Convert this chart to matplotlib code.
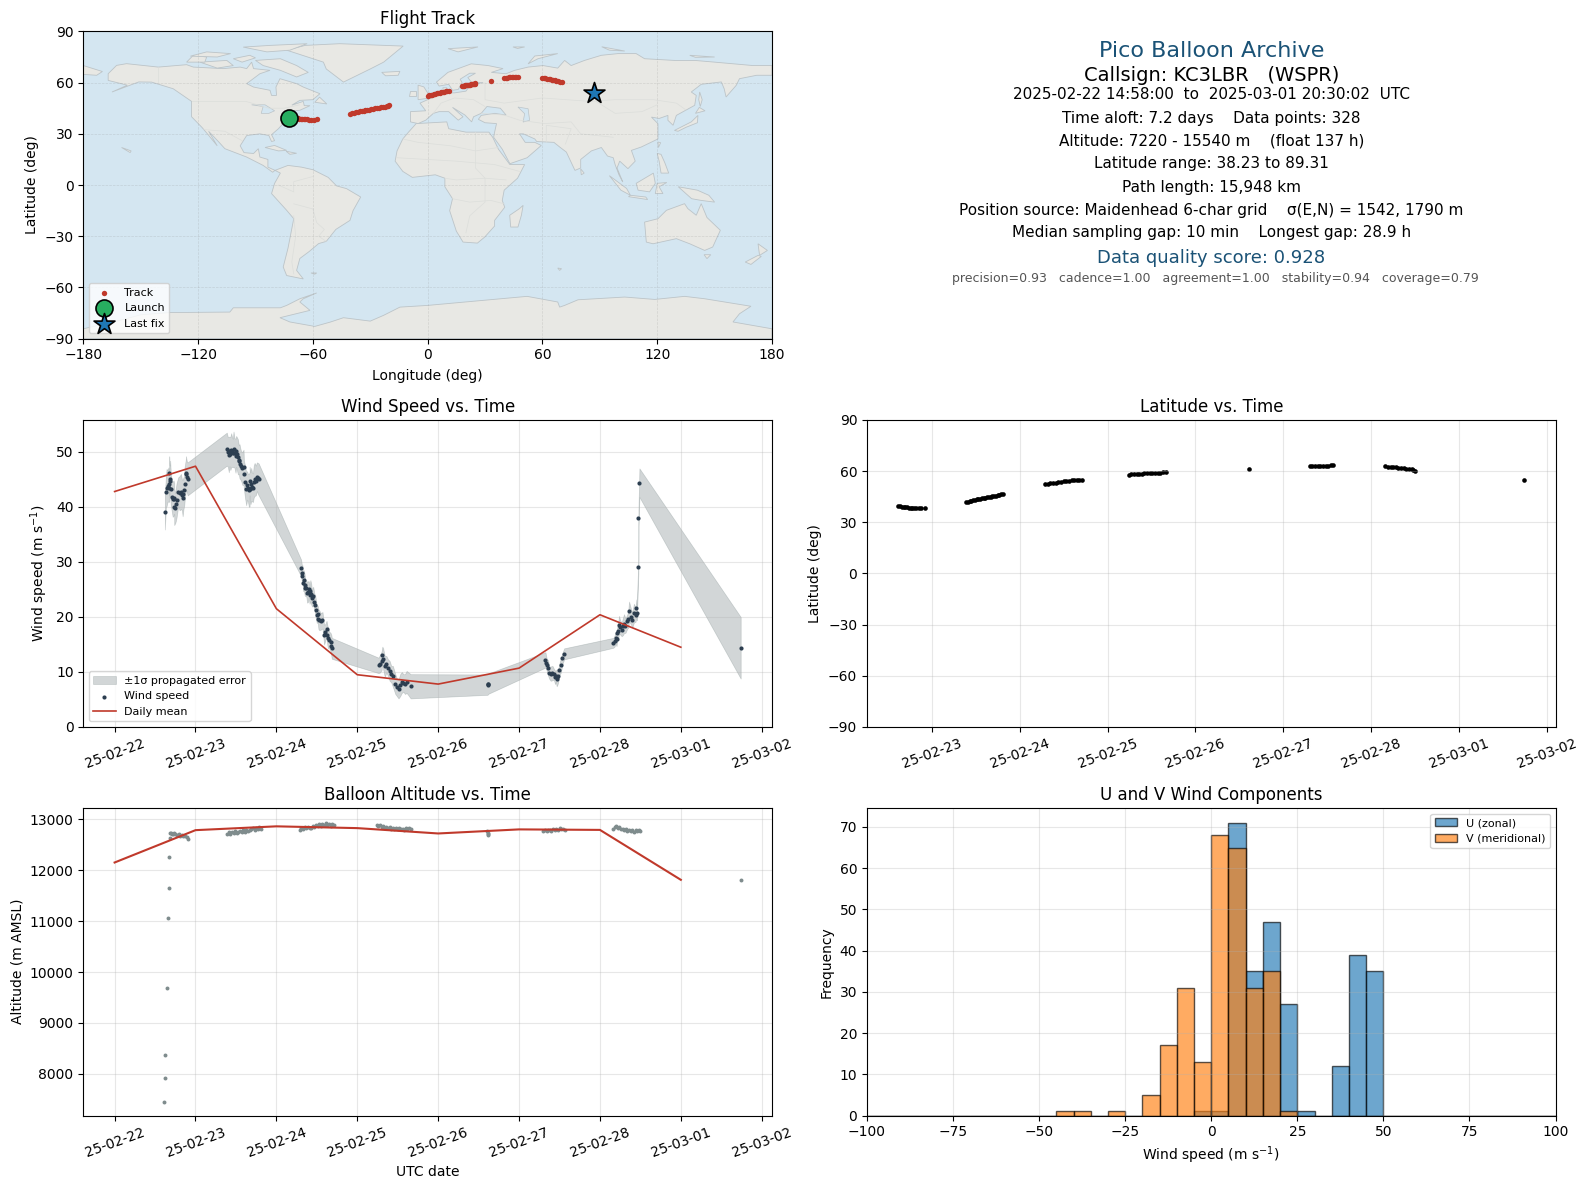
import pandas as pd
import matplotlib
matplotlib.use('Agg')
import matplotlib.pyplot as plt
import matplotlib.dates as mdates

# values, times are days after 2025-02-22 00:00
START = pd.Timestamp('2025-02-22')

wind_t = [0.621, 0.634, 0.642, 0.654, 0.667, 0.675, 0.675, 0.680, 0.687, 0.695, 0.708, 0.718, 0.729, 0.737, 0.737,
          0.750, 0.758, 0.766, 0.787, 0.803, 0.820, 0.832, 0.841, 0.850, 0.861, 0.865, 0.882, 0.882, 0.893, 0.903,
          1.387, 1.400, 1.412, 1.420, 1.431, 1.441, 1.452, 1.462, 1.470, 1.482, 1.495, 1.503, 1.514, 1.524, 1.536,
          1.544, 1.555, 1.565, 1.580, 1.594, 1.598, 1.612, 1.627, 1.638, 1.648, 1.660, 1.669, 1.669, 1.680, 1.689,
          1.700, 1.710, 1.720, 1.731, 1.745, 1.760, 1.770, 1.781,
          2.306, 2.318, 2.322, 2.330, 2.340, 2.350, 2.358, 2.370, 2.380, 2.390, 2.400, 2.410, 2.420, 2.430, 2.440,
          2.455, 2.470, 2.480, 2.490, 2.500, 2.510, 2.520, 2.530, 2.550, 2.570, 2.590, 2.605, 2.620, 2.630, 2.640,
          2.655, 2.670, 2.680, 2.685,
          3.263, 3.280, 3.300, 3.310, 3.320, 3.340, 3.360, 3.380, 3.400, 3.420, 3.440, 3.470, 3.490, 3.510, 3.530,
          3.550, 3.570, 3.590, 3.610, 3.660,
          4.610, 4.616, 4.622,
          5.326, 5.335, 5.343, 5.360, 5.372, 5.390, 5.413, 5.430, 5.445, 5.455, 5.465, 5.475, 5.485, 5.496, 5.517,
          5.537, 5.558,
          6.165, 6.180, 6.194, 6.205, 6.215, 6.225, 6.236, 6.250, 6.269, 6.285, 6.298, 6.315, 6.339, 6.350, 6.360,
          6.385, 6.400, 6.420, 6.440, 6.450, 6.455, 6.475, 6.476, 6.488,
          7.740]
wind_speed = [39.1, 42.7, 43.5, 43.8, 44.1, 43.5, 46.2, 44.8, 45.1, 43.2, 41.8, 41.4, 41.6, 41.5, 40.0,
              39.8, 40.5, 41.2, 42.8, 42.5, 42.8, 42.2, 41.6, 42.4, 43.0, 44.1, 45.9, 46.2, 45.5, 45.1,
              50.5, 50.0, 49.5, 50.1, 49.7, 50.3, 50.0, 49.8, 50.5, 49.8, 49.3, 50.1, 49.6, 49.1, 48.6,
              48.3, 47.8, 47.4, 47.0, 47.2, 45.9, 44.6, 43.3, 43.9, 43.5, 43.0, 43.2, 44.7, 43.4, 44.1,
              43.6, 43.5, 44.6, 45.0, 44.8, 45.5, 45.2, 45.0,
              28.9, 27.5, 28.0, 26.2, 26.7, 25.8, 25.2, 25.2, 24.4, 24.6, 25.0, 24.0, 24.8, 24.2, 23.4,
              23.8, 22.7, 22.2, 21.2, 20.4, 20.6, 19.6, 19.4, 19.2, 19.4, 16.8, 17.2, 17.8, 16.7, 16.1,
              15.8, 15.4, 14.8, 14.3,
              11.2, 11.5, 12.0, 13.0, 12.4, 11.0, 11.4, 10.8, 10.2, 9.6, 9.2, 7.8, 7.2, 6.9, 7.6,
              8.1, 8.0, 7.8, 8.2, 7.4,
              7.7, 7.8, 7.9,
              12.2, 11.7, 11.3, 10.7, 9.9, 9.7, 9.8, 9.6, 9.0, 9.3, 8.7, 9.1, 9.3, 10.4, 11.2,
              12.5, 13.3,
              15.3, 15.6, 16.2, 16.0, 17.1, 17.4, 18.6, 18.1, 17.7, 18.3, 18.8, 18.4, 19.2, 19.6, 21.0,
              20.0, 19.5, 20.7, 20.4, 21.6, 20.8, 29.1, 38.0, 44.4,
              14.4]
wind_err = [3.2, 2.8, 3.4, 2.9, 3.1, 2.6, 3.0, 2.7, 3.3, 2.9, 2.7, 3.2, 3.2, 2.8, 3.3,
            2.7, 3.0, 3.1, 2.6, 3.1, 3.2, 2.8, 3.3, 2.9, 2.7, 3.1, 2.9, 3.0, 2.8, 3.0,
            3.0, 2.7, 3.2, 2.7, 3.0, 3.1, 2.7, 2.6, 3.2, 2.7, 3.1, 2.8, 3.0, 3.2, 2.6,
            3.1, 2.8, 2.7, 3.0, 3.2, 2.6, 2.9, 3.0, 2.6, 2.5, 3.0, 3.1, 2.6, 2.9, 3.0,
            2.6, 2.6, 2.9, 3.0, 2.7, 2.6, 2.8, 2.9,
            1.5, 1.6, 1.4, 1.5, 1.8, 1.9, 1.4, 1.5, 1.8, 1.9, 1.5, 1.6, 1.9, 1.9, 1.5,
            1.7, 1.5, 1.8, 1.7, 1.5, 1.5, 1.8, 1.8, 1.5, 1.5, 1.8, 1.5, 1.5, 1.8, 1.8,
            1.5, 1.7, 1.9, 1.9,
            1.4, 1.6, 1.7, 1.6, 1.9, 1.9, 1.5, 1.5, 1.8, 1.5, 1.9, 1.8, 1.6, 1.7, 2.0,
            1.9, 1.6, 1.8, 2.0, 2.2,
            1.85, 1.85, 1.85,
            1.4, 1.2, 1.1, 1.4, 1.1, 1.3, 1.3, 1.0, 1.2, 1.1, 1.3, 1.4, 1.1, 1.0, 1.3,
            1.0, 1.0,
            0.9, 1.0, 1.1, 1.3, 1.2, 1.5, 1.6, 1.3, 1.2, 1.6, 1.7, 1.3, 1.3, 1.6, 1.8,
            1.4, 1.4, 1.7, 1.3, 1.6, 1.4, 1.2, 1.5, 2.6,
            5.6]

day_t = [0, 1, 2, 3, 4, 5, 6, 7]
daily_wind = [42.8, 47.4, 21.5, 9.5, 7.8, 10.7, 20.4, 14.5]
daily_alt = [12150, 12785, 12860, 12825, 12720, 12800, 12790, 11810]

alt_t = [0.615, 0.626, 0.628, 0.647, 0.666, 0.668, 0.672,
         0.68, 0.69, 0.70, 0.71, 0.72, 0.73, 0.75, 0.77, 0.79, 0.81, 0.83, 0.85, 0.87, 0.89, 0.91,
         1.39, 1.41, 1.43, 1.45, 1.47, 1.49, 1.51, 1.53, 1.55, 1.57, 1.59, 1.61, 1.63, 1.65, 1.67, 1.69, 1.71,
         1.73, 1.75, 1.77, 1.79, 1.81,
         2.29, 2.31, 2.33, 2.35, 2.37, 2.39, 2.41, 2.43, 2.45, 2.47, 2.49, 2.51, 2.53, 2.55, 2.57, 2.59, 2.61,
         2.63, 2.65, 2.67, 2.69, 2.71,
         3.24, 3.26, 3.28, 3.30, 3.32, 3.34, 3.36, 3.38, 3.40, 3.42, 3.44, 3.46, 3.48, 3.50, 3.52, 3.54, 3.56,
         3.58, 3.60, 3.62, 3.64, 3.66,
         4.60, 4.61, 4.615, 4.62,
         5.30, 5.32, 5.34, 5.36, 5.38, 5.40, 5.42, 5.44, 5.46, 5.48, 5.50, 5.52, 5.54, 5.57,
         6.16, 6.18, 6.20, 6.22, 6.24, 6.26, 6.28, 6.30, 6.32, 6.34, 6.36, 6.38, 6.40, 6.42, 6.44, 6.46, 6.48, 6.50,
         7.74]
alt_m = [7440, 7920, 8370, 9680, 11060, 11650, 12250,
         12730, 12640, 12720, 12710, 12700, 12720, 12710, 12690, 12700, 12680, 12690, 12670, 12680, 12650, 12620,
         12700, 12740, 12710, 12750, 12730, 12760, 12720, 12750, 12770, 12740, 12780, 12750, 12790, 12760, 12790,
         12800, 12830, 12790, 12830, 12810, 12840, 12800,
         12790, 12830, 12810, 12840, 12820, 12850, 12830, 12820, 12860, 12840, 12880, 12860, 12900, 12870, 12910,
         12880, 12920, 12880, 12900, 12870, 12910, 12880,
         12890, 12870, 12880, 12850, 12860, 12830, 12850, 12820, 12840, 12810, 12830, 12800, 12830, 12800, 12820,
         12800, 12810, 12790, 12820, 12800, 12830, 12810,
         12760, 12730, 12710, 12690,
         12770, 12790, 12760, 12780, 12790, 12770, 12800, 12780, 12810, 12790, 12820, 12800, 12810, 12780,
         12810, 12840, 12860, 12820, 12840, 12800, 12810, 12790, 12800, 12770, 12790, 12760, 12780, 12750, 12780,
         12760, 12780, 12760,
         11800]

track_t = [0.62, 0.64, 0.66, 0.68, 0.70, 0.72, 0.74, 0.76, 0.78, 0.80, 0.82, 0.85, 0.88, 0.92,
           1.39, 1.41, 1.43, 1.45, 1.47, 1.49, 1.51, 1.53, 1.55, 1.57, 1.59, 1.61, 1.63, 1.65, 1.67, 1.69, 1.71,
           1.73, 1.75, 1.77, 1.79, 1.81,
           2.29, 2.32, 2.35, 2.38, 2.41, 2.44, 2.47, 2.50, 2.53, 2.56, 2.59, 2.62, 2.65, 2.68, 2.71,
           3.24, 3.27, 3.30, 3.33, 3.36, 3.39, 3.42, 3.45, 3.48, 3.51, 3.54, 3.57, 3.60, 3.63, 3.66,
           4.615,
           5.30, 5.33, 5.36, 5.39, 5.42, 5.45, 5.48, 5.51, 5.54, 5.57,
           6.16, 6.19, 6.22, 6.25, 6.28, 6.31, 6.34, 6.37, 6.40, 6.43, 6.46, 6.48, 6.50,
           7.74]
track_lat = [39.6, 39.3, 39.1, 39.0, 38.8, 38.7, 38.6, 38.5, 38.4, 38.4, 38.3, 38.3, 38.3, 38.4,
             41.8, 42.1, 42.4, 42.6, 42.9, 43.1, 43.4, 43.6, 43.8, 44.0, 44.2, 44.4, 44.6, 44.9, 45.1, 45.3, 45.5,
             45.7, 46.0, 46.2, 46.5, 46.8,
             52.2, 52.5, 52.8, 53.0, 53.3, 53.5, 53.8, 54.0, 54.2, 54.4, 54.6, 54.7, 54.8, 54.9, 55.0,
             58.0, 58.2, 58.3, 58.4, 58.5, 58.6, 58.7, 58.8, 58.8, 58.9, 59.0, 59.1, 59.2, 59.3, 59.5,
             61.2,
             62.8, 62.9, 62.9, 63.0, 63.0, 63.1, 63.2, 63.3, 63.5, 63.4,
             62.9, 62.7, 62.5, 62.4, 62.2, 62.0, 61.8, 61.6, 61.4, 61.2, 61.0, 60.6, 60.2,
             55.0]
track_lon = [-71.0, -70.0, -69.0, -68.0, -67.2, -66.4, -65.6, -64.8, -64.0, -63.0, -62.0, -60.8, -59.6, -58.0,
             -40.5, -39.5, -38.5, -37.5, -36.5, -35.5, -34.5, -33.5, -32.5, -31.5, -30.5, -29.5, -28.5, -27.5,
             -26.5, -25.5, -24.5, -23.5, -22.5, -21.5, -20.7, -20.0,
             0.0, 0.8, 1.6, 2.4, 3.2, 4.0, 4.8, 5.6, 6.4, 7.2, 8.0, 8.8, 9.6, 10.3, 11.0,
             18.0, 18.5, 19.0, 19.5, 20.0, 20.5, 21.0, 21.5, 22.0, 22.5, 23.0, 23.5, 24.0, 24.5, 25.0,
             33.0,
             40.0, 40.8, 41.6, 42.4, 43.2, 44.0, 44.8, 45.6, 46.4, 47.0,
             60.0, 60.8, 61.6, 62.4, 63.2, 64.0, 64.8, 65.6, 66.4, 67.2, 68.0, 69.0, 70.0,
             87.0]
launch_lon, launch_lat = -72.5, 39.3
last_lon, last_lat = 87.0, 54.2

hist_edges = [-100, -95, -90, -85, -80, -75, -70, -65, -60, -55, -50, -45, -40, -35, -30, -25, -20, -15, -10, -5,
              0, 5, 10, 15, 20, 25, 30, 35, 40, 45, 50, 55, 60, 65, 70, 75, 80, 85, 90, 95, 100]
u_bins = [-5, 0, 5, 10, 15, 20, 25, 35, 40, 45]
u_counts = [1, 1, 71, 35, 47, 27, 1, 12, 39, 35]
v_bins = [-45, -40, -30, -20, -15, -10, -5, 0, 5, 10, 15, 20]
v_counts = [1, 1, 1, 5, 17, 31, 13, 68, 65, 31, 35, 1]

# coastlines traced by eye, lon/lat
land_polys = [
    # north america
    [(-167, 65.2), (-162.6, 70.1), (-157.4, 71.1), (-140.8, 69.1), (-126, 70.5), (-122.5, 69.1), (-106.8, 68.2),
     (-98, 69.1), (-94.6, 68.2), (-92, 72), (-91, 68.2), (-82.4, 67.2), (-87.7, 65.2), (-94.6, 59.4), (-91, 57.4),
     (-82.4, 55.5), (-81.6, 52.5), (-79, 52.5), (-79.3, 57.4), (-77.2, 62.3), (-68.5, 59.4), (-65, 57.4), (-56.3, 53.5),
     (-60, 50), (-66.8, 49.6), (-71, 46.8), (-65, 49), (-64.5, 46.5), (-61.5, 46.5), (-66.8, 43.8), (-70, 43.5),
     (-74, 40.5), (-76, 35.5), (-78, 33), (-81.6, 29.5), (-80, 26), (-81.6, 25.5), (-83, 29), (-87.7, 30), (-94.6, 29),
     (-98, 23), (-96, 19), (-91, 18.5), (-88.5, 21.3), (-87.7, 16.4), (-83.5, 15), (-83.5, 10.5), (-79.8, 8.6),
     (-81, 7.5), (-86, 11.5), (-94.6, 16.4), (-106, 21.3), (-109.4, 25.5), (-114.5, 31.5), (-110, 23), (-115.5, 30.5),
     (-118, 33.8), (-123.4, 40), (-123.4, 49), (-133, 56.4), (-144.3, 60.3), (-151, 60.4), (-165, 54.5), (-157, 58.5),
     (-167, 61.3)],
    # south america
    [(-79.8, 8.6), (-73, 11.5), (-66, 10.5), (-60, 9), (-52, 4.5), (-47.6, -0.5), (-42.4, -2.1), (-35, -7), (-39, -15),
     (-40.6, -20.7), (-48, -26), (-53, -33), (-57, -34.3), (-62, -39), (-66.8, -43), (-68.5, -50), (-65, -55),
     (-73.7, -53), (-75.5, -48), (-73, -37), (-70, -19.7), (-73.7, -14.8), (-81.6, -5), (-80, 1), (-77, 7)],
    # africa
    [(-6, 36), (10, 37), (11, 33), (20, 31), (32, 31), (34, 28), (37, 21), (43, 12), (50.7, 12), (47, 4), (40, -3), (39, -9),
     (40.3, -13), (35, -20.7), (35, -24), (29.8, -30.5), (26, -34), (18.5, -33.4), (15, -27), (11.5, -15), (13, -8),
     (9, -1), (9, 4), (4, 6), (-4, 5), (-8, 4.5), (-13, 8), (-17, 14), (-16, 20), (-13, 27), (-10, 31)],
    # eurasia
    [(-9, 37), (-9, 43), (-1, 43.5), (-4, 48), (2, 51), (8, 54), (8, 57), (10, 57), (10, 54), (14, 54), (20, 55), (22, 58),
     (24, 59), (29, 60), (23, 60), (21, 63), (25, 65.5), (22, 65.5), (17, 62), (18, 60), (16, 56), (13, 55.5), (11, 59),
     (6, 58), (4.6, 60.3), (10.6, 66), (22.8, 71), (31.6, 70), (39.4, 68.2), (33.3, 66), (41, 65.2), (45.5, 67.2),
     (52.5, 69.1), (60.3, 70), (68, 68.5), (71.6, 73), (75, 70), (82, 73), (90.8, 76), (99.5, 77), (109, 77), (113.4, 74),
     (129, 73), (139.6, 73), (150, 72), (170, 70), (180, 70), (180, 64.3), (172, 64.3), (163, 62.3), (161.3, 58.4),
     (156, 51.6), (155, 56.4), (153.5, 60.4), (143, 59), (137.8, 54.5), (140.4, 52.5), (139.6, 46.7), (130, 40.8),
     (128.3, 35), (125.6, 37.9), (125.6, 40.8), (121, 39), (117, 39.8), (120.4, 35.9), (120.4, 27), (111.7, 22.3),
     (106.5, 20.3), (108.5, 14), (104.7, 9.6), (100.4, 14), (99, 10), (102, 1.8), (100, 6), (98, 12), (97, 16), (94, 17),
     (90.8, 22), (85.6, 20), (80, 15), (80, 10), (77, 8.6), (72.5, 19.3), (69, 22.3), (66, 25), (57, 25.5), (56, 27),
     (50, 30), (48, 30), (51, 25), (56, 25), (59.4, 23.2), (52, 16), (43, 12.5), (39, 21), (34.5, 28), (35, 31), (36, 36),
     (30, 36.5), (26.5, 38.5), (28, 40.8), (35, 42), (41, 41), (38, 45), (31, 46), (28, 42), (24, 40), (23, 37),
     (19.5, 41), (13, 45.5), (18.5, 40), (16, 38), (11, 43), (6, 43), (3, 42), (-1, 38), (-5, 36)],
    [(-180, 70), (-170, 66.5), (-173, 64.3), (-180, 64.8)],
    # greenland and the arctic
    [(-73.7, 79), (-64, 81.8), (-46, 82.8), (-12.8, 81.4), (-23, 72), (-30, 68), (-44, 60.3), (-53, 68), (-54.5, 72)],
    [(-90, 73), (-77, 74), (-68.5, 70), (-62.4, 66), (-68.5, 63.3), (-77, 67.2), (-86, 70)],
    [(-96.4, 80.8), (-82.4, 81.8), (-63, 82.8), (-72, 79), (-84, 78)],
    [(-119, 72), (-105, 73), (-101.6, 70), (-110, 68.5)],
    [(-126, 72), (-122.5, 76), (-115.5, 75), (-116.5, 72)],
    [(-124, 75.5), (-115.5, 78), (-103, 77), (-110, 75)],
    [(-101.6, 74), (-93, 76), (-90, 74.5), (-97, 72)],
    [(-59, 48.5), (-52.7, 47.5), (-56.5, 51.5)],
    [(-24, 66), (-14.5, 66.6), (-15.4, 64.3), (-22, 64)],
    [(10.7, 79.9), (26.3, 80.9), (15.9, 78)],
    [(44.6, 80.9), (50.7, 80.9), (47, 80)],
    [(52.5, 71), (56, 75.6), (68, 77), (57.7, 74)],
    [(91, 81), (103, 78.5), (95, 79)],
    [(137, 76), (150, 75), (140, 74.8)],
    [(-5, 50), (1, 51), (0, 54), (-2, 57.5), (-5, 58.5), (-5, 54)],
    [(-10, 52), (-6, 52), (-6, 55), (-9, 55)],
    # asia and the pacific
    [(129, 32), (137.8, 37), (141.3, 40.8), (141, 36.5), (135, 33.8), (130.9, 31.5)],
    [(140, 42), (145, 43.5), (142, 45.5)],
    [(142.2, 54.5), (143.5, 50), (142.5, 46), (141.7, 50)],
    [(120.4, 25.2), (121.8, 24.8), (120.6, 22)],
    [(120, 18.5), (122, 18), (124, 13), (126, 7), (122, 7), (121, 14)],
    [(109, 1), (118, 7), (119, 1), (116, -4), (110, -3)],
    [(95, 5.5), (104, -2), (106, -6), (101, -3)],
    [(105, -6.8), (115, -8.5), (114, -7), (106, -6)],
    [(119, -5), (120, 1), (125, 1.5), (121, -1), (123, -5)],
    [(131, -1), (141, -3), (147, -6), (150, -10), (143, -9), (138, -8)],
    [(113.4, -21.7), (114.3, -33.4), (117.8, -34.4), (130, -31.4), (137, -34.4), (144.8, -38.3), (149, -36.3), (153, -26.5),
     (146, -19), (143, -10.9), (140.4, -17.7), (136, -13.8), (134.3, -10.9), (124.8, -14.8), (120.4, -19.7)],
    [(144.5, -40.8), (148, -40.8), (146, -43.1)],
    [(172.7, -34.4), (177.6, -38.3), (173.5, -41.2)],
    [(172.7, -41.2), (166, -45.1), (169, -46.5), (174.4, -41.8)],
    [(49.9, -11.9), (49, -17.7), (47.2, -24.6), (43.4, -24.6), (42.9, -17.7), (48, -13.8)],
    [(68, -48.6), (70, -49), (69, -50)],
    [(80, 9.5), (81.8, 7), (80.3, 6)],
    [(-160, 22), (-155, 20), (-155.5, 19)],
    [(-85, 22), (-80, 23.2), (-73.7, 20.3), (-78, 20)],
    [(-74, 19.8), (-68.5, 18.6), (-72, 18)],
    [(-61, -51.5), (-58, -51.5), (-59, -52.2)],
    # antarctica
    [(-180, -84.2), (-160, -79), (-150, -76), (-135, -74.7), (-103.4, -74.4), (-101.6, -71.9), (-77, -71.9), (-73.7, -70.5),
     (-66.8, -66.6), (-58, -63.2), (-65, -66.6), (-66.8, -68.5), (-61.5, -73.4), (-77.2, -77.7), (-72, -80.2), (-59, -82.8),
     (-51, -80.3), (-44, -77.7), (-30, -79.7), (-23, -76.3), (-14.5, -71.5), (0, -70.5), (52, -65.2), (68, -68.5),
     (69, -71.5), (71.6, -70.5), (78.6, -67.2), (103, -65.6), (118.7, -67), (134.3, -65.2), (144.8, -66.6), (169, -71),
     (163, -75.4), (159.6, -80.2), (180, -84.2), (180, -90), (-180, -90)],
]
water_polys = [
    [(47.2, 45.7), (52.5, 44.7), (53.3, 37.9), (49.9, 36.9), (50.7, 41.8)],
    [(-92, 47), (-85, 47), (-80, 43.5), (-83, 42), (-87, 42), (-86, 46)],
]
border_lines = [
    [(-123, 49), (-95, 49), (-83, 45), (-75, 45), (-67, 47)],
    [(-141, 69), (-141, 60)],
    [(-117, 32.5), (-106, 31.5), (-97, 26)],
    [(-70, -18), (-69, -30), (-71, -45), (-70, -52)],
    [(-70, -11), (-60, -14), (-58, -22), (-54, -26), (-57, -30), (-53, -33)],
    [(-78, 0), (-70, -4), (-70, 2), (-60, 5)],
    [(-13, 27), (-5, 25), (12, 23), (25, 20), (37, 22)],
    [(25, 31), (25, 10), (30, 4), (30, -10), (22, -18), (20, -28)],
    [(-16, 16), (15, 14), (35, 12), (48, 8)],
    [(9, 4), (15, 3), (30, 4), (41, 3)],
    [(13, -8), (22, -10), (33, -9), (40, -11)],
    [(28, 42), (40, 41), (48, 38), (61, 36), (75, 37), (80, 30), (97, 28)],
    [(30, 60), (30, 50), (40, 48), (60, 51), (85, 49), (98, 50), (118, 50), (130, 48), (135, 44)],
    [(88, 49), (98, 42), (112, 43), (120, 47)],
    [(62, 25), (62, 35), (75, 33), (72, 24)],
    [(3, 42), (7, 48), (14, 51), (24, 50), (30, 46)],
]

archive_blue = '#1a5276'
red = '#c0392b'


def panel(x0, y0, x1, y1):
    # pixel box in the 1588x1189 figure
    return fig.add_axes([x0 / 1588, 1 - y1 / 1189, (x1 - x0) / 1588, (y1 - y0) / 1189])


def dates(days):
    return START + pd.to_timedelta(days, unit='D')


def date_axis(ax):
    ax.xaxis.set_major_locator(mdates.DayLocator())
    ax.xaxis.set_major_formatter(mdates.DateFormatter('%y-%m-%d'))
    ax.tick_params(axis='x', labelrotation=20)
    ax.grid(True, alpha=0.3)


fig = plt.figure(figsize=(15.88, 11.89), dpi=100)

# flight track map
ax_map = panel(83.3, 31.4, 772, 338.7)
ax_map.set_facecolor('#d4e6f1')
for poly in land_polys:
    ax_map.fill([p[0] for p in poly], [p[1] for p in poly], fc='#e8e8e4', ec='#bcc4c8', lw=0.6, zorder=1)
for poly in water_polys:
    ax_map.fill([p[0] for p in poly], [p[1] for p in poly], fc='#d4e6f1', ec='#bcc4c8', lw=0.5, zorder=1)
for line in border_lines:
    ax_map.plot([p[0] for p in line], [p[1] for p in line], color='#dcdedb', lw=0.5, zorder=1.5)
ax_map.scatter(track_lon, track_lat, s=15, color=red, linewidths=0, label='Track', zorder=3)
ax_map.scatter([launch_lon], [launch_lat], s=150, color='#27ae60', edgecolors='black', linewidths=1.2,
               label='Launch', zorder=4)
ax_map.scatter([last_lon], [last_lat], s=250, marker='*', color='#1f77b4', edgecolors='black', linewidths=1.2,
               label='Last fix', zorder=4)
ax_map.set_xlim(-180, 180)
ax_map.set_ylim(-90, 90)
ax_map.set_xticks(range(-180, 181, 60))
ax_map.set_yticks(range(-90, 91, 30))
ax_map.grid(True, alpha=0.22, ls='--', lw=0.5, color='gray', zorder=2)
ax_map.set_xlabel('Longitude (deg)', labelpad=5)
ax_map.set_ylabel('Latitude (deg)')
ax_map.set_title('Flight Track', pad=5)
ax_map.legend(loc='lower left', fontsize=8, framealpha=0.8)

# summary text
ax_text = panel(867, 31.4, 1555.5, 338.7)
ax_text.axis('off')
ax_text.text(0.5, 0.935, 'Pico Balloon Archive', ha='center', va='center', fontsize=16, color=archive_blue)
ax_text.text(0.5, 0.858, 'Callsign: KC3LBR   (WSPR)', ha='center', va='center', fontsize=14)
ax_text.text(0.5, 0.794, '2025-02-22 14:58:00  to  2025-03-01 20:30:02  UTC', ha='center', va='center', fontsize=11)
ax_text.text(0.5, 0.717, 'Time aloft: 7.2 days    Data points: 328', ha='center', va='center', fontsize=11)
ax_text.text(0.5, 0.644, 'Altitude: 7220 - 15540 m    (float 137 h)', ha='center', va='center', fontsize=11)
ax_text.text(0.5, 0.569, 'Latitude range: 38.23 to 89.31', ha='center', va='center', fontsize=11)
ax_text.text(0.5, 0.493, 'Path length: 15,948 km', ha='center', va='center', fontsize=11)
ax_text.text(0.5, 0.417, 'Position source: Maidenhead 6-char grid    \u03c3(E,N) = 1542, 1790 m', ha='center', va='center', fontsize=11)
ax_text.text(0.5, 0.345, 'Median sampling gap: 10 min    Longest gap: 28.9 h', ha='center', va='center', fontsize=11)
ax_text.text(0.5, 0.263, 'Data quality score: 0.928', ha='center', va='center', fontsize=13, color=archive_blue)
ax_text.text(0.506, 0.195, 'precision=0.93   cadence=1.00   agreement=1.00   stability=0.94   coverage=0.79',
             ha='center', va='center', fontsize=9, color='#555555')

# wind speed
wind_low = [w - e for w, e in zip(wind_speed, wind_err)]
wind_high = [w + e for w, e in zip(wind_speed, wind_err)]
ax_wind = panel(83.3, 420, 772, 727)
ax_wind.fill_between(dates(wind_t), wind_low, wind_high, color='#7f8c8d', alpha=0.35, linewidth=0.5,
                     label='\u00b11\u03c3 propagated error')
ax_wind.scatter(dates(wind_t), wind_speed, s=9, color='#2c3e50', linewidths=0, label='Wind speed', zorder=3)
ax_wind.plot(dates(day_t), daily_wind, color=red, lw=1.2, label='Daily mean', zorder=4)
ax_wind.set_xlim(dates(-0.387), dates(8.127))
ax_wind.set_ylim(0, 55.8)
ax_wind.set_yticks([0, 10, 20, 30, 40, 50])
ax_wind.set_ylabel('Wind speed (m s$^{-1}$)')
ax_wind.set_title('Wind Speed vs. Time')
date_axis(ax_wind)
ax_wind.legend(loc='lower left', fontsize=8)

# latitude
ax_lat = panel(867, 420, 1555.5, 727)
ax_lat.scatter(dates(track_t), track_lat, s=11, color='black', linewidths=0)
ax_lat.set_xlim(dates(0.263), dates(8.097))
ax_lat.set_ylim(-90, 90)
ax_lat.set_yticks(range(-90, 91, 30))
ax_lat.set_ylabel('Latitude (deg)')
ax_lat.set_title('Latitude vs. Time')
date_axis(ax_lat)

# altitude
ax_alt = panel(83.3, 808, 772, 1115.5)
ax_alt.scatter(dates(alt_t), alt_m, s=8, color='#7f8c8d', linewidths=0)
ax_alt.plot(dates(day_t), daily_alt, color=red, lw=1.5)
ax_alt.set_xlim(dates(-0.387), dates(8.127))
ax_alt.set_ylim(7183, 13220)
ax_alt.set_xlabel('UTC date')
ax_alt.set_ylabel('Altitude (m AMSL)')
ax_alt.set_title('Balloon Altitude vs. Time')
date_axis(ax_alt)

# u and v histogram
ax_hist = panel(867, 808, 1555.5, 1115.5)
ax_hist.hist(u_bins, bins=hist_edges, weights=u_counts, color='#1f77b4', alpha=0.65, edgecolor='black', label='U (zonal)')
ax_hist.hist(v_bins, bins=hist_edges, weights=v_counts, color='#ff7f0e', alpha=0.65, edgecolor='black', label='V (meridional)')
ax_hist.set_xlim(-100, 100)
ax_hist.set_ylim(0, 74.6)
ax_hist.set_xlabel('Wind speed (m s$^{-1}$)')
ax_hist.set_ylabel('Frequency')
ax_hist.set_title('U and V Wind Components')
ax_hist.grid(True, alpha=0.3)
ax_hist.legend(loc='upper right', fontsize=8)

fig.savefig('out.png', dpi=100)
